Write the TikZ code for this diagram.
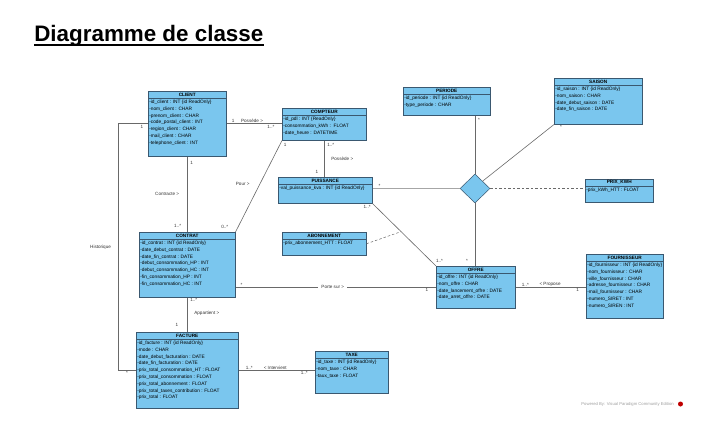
\documentclass[tikz,border=0pt]{standalone}
\usepackage{fontspec}
\setmainfont{Liberation Sans}
\usetikzlibrary{shapes.multipart, shapes.geometric}
\definecolor{umlfill}{RGB}{122,198,238}
\definecolor{umlborder}{RGB}{58,88,112}
\definecolor{linegray}{RGB}{105,105,105}
\newcommand{\clshead}[2]{\parbox[c][4.4pt][c]{#1}{\centering\bfseries #2}}
\newcommand{\clsbody}[3]{\parbox[t][#2][t]{#1}{\fontsize{4.8}{6.8}\selectfont\strut #3}}

\begin{document}
\begin{tikzpicture}[x=1pt,y=-1pt,semithick]
  \tikzstyle{cls}=[rectangle split, rectangle split parts=2, draw=umlborder, fill=umlfill,
                   line width=0.5pt, anchor=north west, inner xsep=1pt, inner ysep=0.8pt,
                   font=\fontsize{4.7}{6.8}\selectfont]
  \tikzstyle{lbl}=[font=\fontsize{4.6}{5.4}\selectfont, inner sep=0.8pt, text=black!80]
  \tikzstyle{assoc}=[draw=linegray, line width=0.6pt]
  \tikzstyle{assocclass}=[assoc, line width=0.5pt, dash pattern=on 2.5pt off 2pt]

  \useasboundingbox (0,0) rectangle (712,439);

  \node[anchor=base west, inner sep=0pt, font=\fontsize{22.4}{26}\selectfont\bfseries] (title) at (34,41.7) {Diagramme de classe};
  \draw[line width=1.3pt] ([yshift=-3.2pt]title.base west) -- ([yshift=-3.2pt]title.base east);

  % classes
  \node[cls] (client) at (148,91) {\clshead{76pt}{CLIENT}
    \nodepart{two}\clsbody{76pt}{56.4pt}{-id\_client : INT \{id ReadOnly\}\\-nom\_client : CHAR\\-prenom\_client : CHAR\\
      -code\_postal\_client : INT\\-region\_client : CHAR\\-mail\_client : CHAR\\-telephone\_client : INT}};
  \node[cls] (compteur) at (282,108) {\clshead{82pt}{COMPTEUR}
    \nodepart{two}\clsbody{82pt}{23.4pt}{-id\_pdl : INT \{ReadOnly\}\\-consommation\_kWh :~~FLOAT\\-date\_heure : DATETIME}};
  \node[cls] (periode) at (403,87) {\clshead{85pt}{PERIODE}
    \nodepart{two}\clsbody{85pt}{19.4pt}{-id\_periode : INT \{id ReadOnly\}\\-type\_periode : CHAR}};
  \node[cls] (saison) at (554,78) {\clshead{86pt}{SAISON}
    \nodepart{two}\clsbody{86pt}{37.4pt}{-id\_saison : INT \{id ReadOnly\}\\-nom\_saison : CHAR\\
      -date\_debut\_saison : DATE\\-date\_fin\_saison : DATE}};
  \node[cls] (puissance) at (278,177) {\clshead{92pt}{PUISSANCE}
    \nodepart{two}\clsbody{92pt}{17.4pt}{-val\_puissance\_kva : INT \{id ReadOnly\}}};
  \node[cls] (prixkwh) at (585,179) {\clshead{66pt}{PRIX\_KWH}
    \nodepart{two}\clsbody{66pt}{14.4pt}{-prix\_kWh\_HTT : FLOAT}};
  \node[cls] (abonnement) at (282,232) {\clshead{82pt}{ABONNEMENT}
    \nodepart{two}\clsbody{82pt}{14.4pt}{-prix\_abonnement\_HTT : FLOAT}};
  \node[cls] (contrat) at (139,232) {\clshead{94pt}{CONTRAT}
    \nodepart{two}\clsbody{94pt}{56.4pt}{-id\_contrat : INT \{id ReadOnly\}\\-date\_debut\_contrat : DATE\\
      -date\_fin\_contrat : DATE\\-debut\_consommation\_HP : INT\\-debut\_consommation\_HC : INT\\
      -fin\_consommation\_HP : INT\\-fin\_consommation\_HC : INT}};
  \node[cls] (offre) at (436,266) {\clshead{77pt}{OFFRE}
    \nodepart{two}\clsbody{77pt}{33.4pt}{-id\_offre : INT \{id ReadOnly\}\\-nom\_offre : CHAR\\
      -date\_lancement\_offre : DATE\\-date\_arret\_offre : DATE}};
  \node[cls] (fournisseur) at (586,254) {\clshead{75pt}{FOURNISSEUR}
    \nodepart{two}\clsbody{75pt}{55.4pt}{-id\_fournisseur : INT \{id ReadOnly\}\\-nom\_fournisseur : CHAR\\
      -ville\_fournisseur : CHAR\\-adresse\_fournisseur : CHAR\\-mail\_fournisseur : CHAR\\
      -numero\_SIRET : INT\\-numero\_SIREN : INT}};
  \node[cls] (facture) at (136,332) {\clshead{100pt}{FACTURE}
    \nodepart{two}\clsbody{100pt}{67.4pt}{-id\_facture : INT \{id ReadOnly\}\\-mode : CHAR\\
      -date\_debut\_facturation : DATE\\-date\_fin\_facturation : DATE\\-prix\_total\_consommation\_HT : FLOAT\\
      -prix\_total\_consommation : FLOAT\\-prix\_total\_abonnement : FLOAT\\
      -prix\_total\_taxes\_contribution : FLOAT\\-prix\_total : FLOAT}};
  \node[cls] (taxe) at (315,351) {\clshead{71pt}{TAXE}
    \nodepart{two}\clsbody{71pt}{33.4pt}{-id\_taxe : INT \{id ReadOnly\}\\-nom\_taxe : CHAR\\-taux\_taxe : FLOAT}};

  \node[diamond, draw=umlborder, fill=umlfill, line width=0.5pt, minimum width=30pt,
        minimum height=29pt, inner sep=0pt] (ternary) at (475,188.5) {};

  % associations
  \draw[assoc] (client.east) -- node[lbl, pos=0.12, above]{1} node[lbl, pos=0.46, above]{Possède >}
      node[lbl, pos=0.8, below]{1..*} (client.east -| compteur.west);
  \draw[assoc] (client.south) -- node[lbl, pos=0.09, right=2pt]{1} node[lbl, pos=0.5, left=7pt]{Contracte >}
      node[lbl, pos=0.92, left=5pt]{1..*} (contrat.north);
  \draw[assoc] (contrat.north east) -- node[lbl, pos=0.06, left=9pt]{0..*} node[lbl, pos=0.52, left=9pt]{Pour >}
      node[lbl, pos=0.95, right=3pt]{1} (compteur.south west);
  \draw[assoc] (compteur.south) -- node[lbl, pos=0.12, right=2pt]{1..*} node[lbl, pos=0.51, right=6pt]{Possède >}
      node[lbl, pos=0.86, left=5pt]{1} (compteur.south |- puissance.north);
  \draw[assoc] (contrat.south) -- node[lbl, pos=0.08, right=2pt]{1..*} node[lbl, pos=0.47, right=6pt]{Appartient >}
      node[lbl, pos=0.8, left=8pt]{1} (facture.north);
  \draw[assoc] (client.west) -- node[lbl, pos=0.2, below]{1} ++(-30,0)
      |- node[lbl, pos=0.25, left=6pt]{Historique} node[lbl, pos=0.75, below]{*} (facture.west);
  \draw[assoc] (facture.east) -- node[lbl, pos=0.14, above]{1..*} node[lbl, pos=0.48, above]{< Intervient}
      node[lbl, pos=0.86, below]{1..*} (facture.east -| taxe.west);
  \draw[assoc] (contrat.east |- offre.west) -- node[lbl, pos=0.03, above]{*}
      node[lbl, pos=0.485, fill=white, inner xsep=3pt]{Porte sur >} node[lbl, pos=0.955, below]{1} (offre.west);
  \draw[assoc] (offre.east) -- node[lbl, pos=0.14, above]{1..*} node[lbl, pos=0.49, above]{< Propose}
      node[lbl, pos=0.88, below]{1} (offre.east -| fournisseur.west);
  \draw[assoc] (puissance.south east) -- node[lbl, pos=0.05, left=4pt]{1..*} coordinate[pos=0.45] (abomid)
      node[lbl, pos=0.92, right=4pt]{1..*} (offre.north west);
  \draw[assocclass] (abonnement.east) -- (abomid);

  % ternary association
  \draw[assoc, line width=1.1pt, draw=gray!70] (puissance.east |- ternary.west) -- node[lbl, pos=0.08, above]{*} (ternary.west);
  \draw[assoc] (ternary.north |- periode.south) -- node[lbl, pos=0.08, right=2pt]{*} (ternary.north);
  \draw[assoc] (saison.south west) -- node[lbl, pos=0, below right, xshift=5pt]{*} (ternary.north east);
  \draw[assoc] (ternary.south) -- node[lbl, pos=0.92, left=6pt]{*} (ternary.south |- offre.north);
  \draw[assocclass] (ternary.east) -- (ternary.east -| prixkwh.west);

  \node[anchor=east, inner sep=0pt, font=\fontsize{4.2}{5}\selectfont, text=gray!75] (vpnote) at (674,404)
      {Powered By: Visual Paradigm Community Edition};
  \node[circle, fill=red!75!black, minimum size=5pt, inner sep=0pt] (vplogo) at (680.5,404) {};
\end{tikzpicture}
\end{document}
